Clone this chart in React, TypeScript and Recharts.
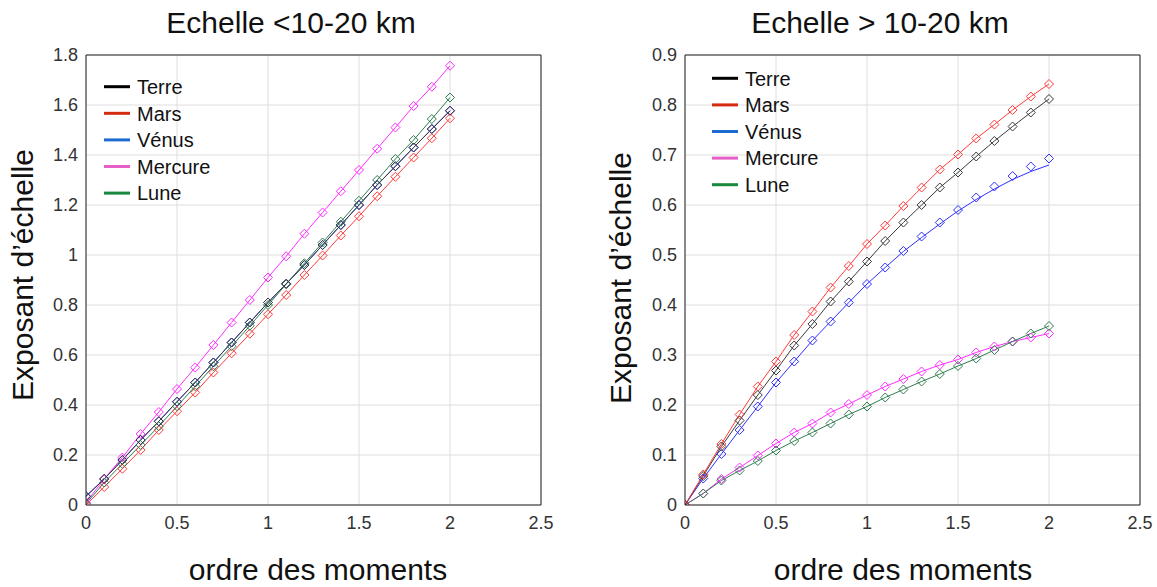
import { LineChart, Line, XAxis, YAxis, CartesianGrid } from "recharts";

// ordre des moments (q)
const moments = [0, 0.1, 0.2, 0.3, 0.4, 0.5, 0.6, 0.7, 0.8, 0.9, 1, 1.1, 1.2, 1.3, 1.4, 1.5, 1.6, 1.7, 1.8, 1.9, 2];

// Echelle < 10-20 km
const terreL = [0.035, 0.104, 0.18, 0.26, 0.335, 0.413, 0.49, 0.57, 0.65, 0.73, 0.81, 0.885, 0.96, 1.04, 1.12, 1.2, 1.28, 1.355, 1.43, 1.504, 1.577];
const marsL = [0, 0.072, 0.145, 0.22, 0.3, 0.375, 0.45, 0.53, 0.607, 0.685, 0.763, 0.84, 0.92, 0.998, 1.078, 1.155, 1.235, 1.313, 1.39, 1.467, 1.547];
// Vénus sits under Terre on the left panel
const venusL = [0.035, 0.104, 0.18, 0.26, 0.335, 0.413, 0.49, 0.57, 0.65, 0.73, 0.81, 0.885, 0.96, 1.04, 1.12, 1.2, 1.28, 1.355, 1.43, 1.504, 1.577];
const mercureL = [0.01, 0.104, 0.19, 0.284, 0.372, 0.464, 0.55, 0.64, 0.73, 0.82, 0.91, 0.995, 1.085, 1.17, 1.255, 1.34, 1.425, 1.51, 1.596, 1.673, 1.757];
const luneL = [0.005, 0.09, 0.165, 0.24, 0.315, 0.395, 0.475, 0.555, 0.635, 0.717, 0.8, 0.883, 0.967, 1.05, 1.133, 1.217, 1.3, 1.384, 1.46, 1.544, 1.63];

// Echelle > 10-20 km
const terreR = [0, 0.058, 0.117, 0.169, 0.22, 0.269, 0.319, 0.362, 0.407, 0.447, 0.487, 0.528, 0.565, 0.6, 0.635, 0.665, 0.697, 0.728, 0.757, 0.785, 0.812];
const marsR = [0, 0.061, 0.122, 0.181, 0.237, 0.287, 0.34, 0.387, 0.435, 0.478, 0.522, 0.559, 0.598, 0.635, 0.671, 0.701, 0.733, 0.761, 0.79, 0.817, 0.842];
const venusR = [0, 0.053, 0.102, 0.15, 0.197, 0.245, 0.287, 0.329, 0.367, 0.405, 0.442, 0.475, 0.508, 0.537, 0.565, 0.59, 0.615, 0.637, 0.658, 0.677, 0.693];
const venusFitR = [0, 0.053, 0.102, 0.15, 0.197, 0.245, 0.287, 0.329, 0.367, 0.405, 0.442, 0.475, 0.507, 0.535, 0.562, 0.588, 0.611, 0.632, 0.651, 0.667, 0.68];
const mercureR = [0, 0.023, 0.052, 0.075, 0.099, 0.123, 0.145, 0.163, 0.185, 0.202, 0.22, 0.237, 0.252, 0.267, 0.28, 0.291, 0.305, 0.317, 0.327, 0.335, 0.343];
const luneR = [0, 0.023, 0.049, 0.069, 0.088, 0.109, 0.128, 0.145, 0.163, 0.181, 0.197, 0.215, 0.231, 0.247, 0.262, 0.278, 0.293, 0.31, 0.327, 0.343, 0.358];

const xTicks = [0, 0.5, 1, 1.5, 2, 2.5];
const leftYTicks = [0, 0.2, 0.4, 0.6, 0.8, 1, 1.2, 1.4, 1.6, 1.8];
const rightYTicks = [0, 0.1, 0.2, 0.3, 0.4, 0.5, 0.6, 0.7, 0.8, 0.9];

const legendNames = ["Terre", "Mars", "Vénus", "Mercure", "Lune"];
const legendColors = ["#000000", "#d42a10", "#1b6bd0", "#e65fc6", "#17893c"];

const C = { terre: "#3a3a3a", mars: "#ff3b3b", venus: "#2f2fff", mercure: "#ff2cff", lune: "#2e7d4e" };
const FONT = "'Liberation Sans', Arial, sans-serif";
const H = 587;

const rowsL = moments.map((m, i) => ({ m, terre: terreL[i], mars: marsL[i], venus: venusL[i], mercure: mercureL[i], lune: luneL[i] }));
const rowsR = moments.map((m, i) => ({ m, terre: terreR[i], mars: marsR[i], venus: venusR[i], venusFit: venusFitR[i], mercure: mercureR[i], lune: luneR[i] }));

const diamond = (color: string) => (p: any) => {
  const { cx, cy, index } = p;
  if (cx == null || cy == null) return <g key={`e${index}`} />;
  const r = 4.5;
  return <path key={`d${index}`} d={`M${cx},${cy - r}L${cx + r},${cy}L${cx},${cy + r}L${cx - r},${cy}Z`} fill="none" stroke={color} strokeWidth={1} />;
};

const fmt = (v: number) => String(Number(v.toFixed(2)));

type PanelProps = { ox: number; w: number; plotL: number; plotR: number; yMax: number; yTicks: number[]; data: any[]; right?: boolean };

function Panel({ ox, w, plotL, plotR, yMax, yTicks, data, right }: PanelProps) {
  const tick = { fontSize: 18, fill: "#333", fontFamily: FONT };
  const order: (keyof typeof C)[] = right ? ["mercure", "lune", "venus", "terre", "mars"] : ["venus", "mars", "lune", "mercure", "terre"];
  return (
    <div style={{ position: "absolute", left: ox, top: 0, width: w, height: H }}>
      <LineChart width={w} height={H} data={data} margin={{ top: 55, right: w - (plotR - ox), bottom: H - 505 - 30, left: plotL - ox - 50 }}>
        <CartesianGrid stroke="#dedede" />
        <XAxis type="number" dataKey="m" domain={[0, 2.5]} ticks={xTicks} allowDataOverflow height={30}
          tickLine={false} tickSize={0} tickMargin={11} tick={tick} tickFormatter={fmt} stroke="#222" />
        <XAxis xAxisId="bt" type="number" dataKey="m" domain={[0, 2.5]} ticks={xTicks} allowDataOverflow mirror
          tick={false} axisLine={false} tickSize={5} stroke="#222" />
        <XAxis xAxisId="top" orientation="top" type="number" dataKey="m" domain={[0, 2.5]} ticks={xTicks} allowDataOverflow mirror
          tick={false} tickSize={5} stroke="#222" />
        <YAxis type="number" domain={[0, yMax]} ticks={yTicks} allowDataOverflow width={50}
          tickLine={false} tickSize={0} tickMargin={8} tick={tick} tickFormatter={fmt} stroke="#222" />
        <YAxis yAxisId="lt" type="number" domain={[0, yMax]} ticks={yTicks} allowDataOverflow mirror
          tick={false} axisLine={false} tickSize={5} stroke="#222" />
        <YAxis yAxisId="right" orientation="right" type="number" domain={[0, yMax]} ticks={yTicks} allowDataOverflow mirror
          tick={false} tickSize={5} stroke="#222" />
        {order.map((k) => {
          if (right && k === "venus") {
            return [
              <Line key="vf" type="linear" dataKey="venusFit" stroke={C.venus} strokeWidth={1} dot={false} isAnimationActive={false} />,
              <Line key="vm" type="linear" dataKey="venus" stroke="none" dot={diamond(C.venus)} isAnimationActive={false} />,
            ];
          }
          return <Line key={k} type="linear" dataKey={k} stroke={C[k]} strokeWidth={1} dot={diamond(C[k])} isAnimationActive={false} />;
        })}
      </LineChart>
    </div>
  );
}

function LegendBox({ x, y }: { x: number; y: number }) {
  return (
    <g>
      {legendNames.map((n, i) => (
        <g key={n}>
          <line x1={x} x2={x + 26} y1={y + i * 26.6} y2={y + i * 26.6} stroke={legendColors[i]} strokeWidth={3} />
          <text x={x + 33} y={y + i * 26.6} dy="0.36em" fontSize={20} fill="#111" fontFamily={FONT}>{n}</text>
        </g>
      ))}
    </g>
  );
}

export default function App() {
  return (
    <div style={{ position: "absolute", left: 0, top: 0, width: 1157, height: H, background: "#fff", fontFamily: FONT }}>
      <Panel ox={0} w={580} plotL={86} plotR={541} yMax={1.8} yTicks={leftYTicks} data={rowsL} />
      <Panel ox={590} w={567} plotL={685} plotR={1140} yMax={0.9} yTicks={rightYTicks} data={rowsR} right />
      <svg width={1157} height={H} style={{ position: "absolute", left: 0, top: 0, pointerEvents: "none" }}>
        <text x={291} y={33} textAnchor="middle" fontSize={30} fill="#111" fontFamily={FONT}>Echelle &lt;10-20 km</text>
        <text x={880} y={33} textAnchor="middle" fontSize={30} fill="#111" fontFamily={FONT}>Echelle &gt; 10-20 km</text>
        <text x={318} y={580} textAnchor="middle" fontSize={30} fill="#111" fontFamily={FONT}>ordre des moments</text>
        <text x={903} y={580} textAnchor="middle" fontSize={30} fill="#111" fontFamily={FONT}>ordre des moments</text>
        <text transform="translate(33,275) rotate(-90)" textAnchor="middle" fontSize={30} fill="#111" fontFamily={FONT}>Exposant d’échelle</text>
        <text transform="translate(631,278) rotate(-90)" textAnchor="middle" fontSize={30} fill="#111" fontFamily={FONT}>Exposant d’échelle</text>
        <LegendBox x={104} y={86.7} />
        <LegendBox x={712} y={78.3} />
      </svg>
    </div>
  );
}
